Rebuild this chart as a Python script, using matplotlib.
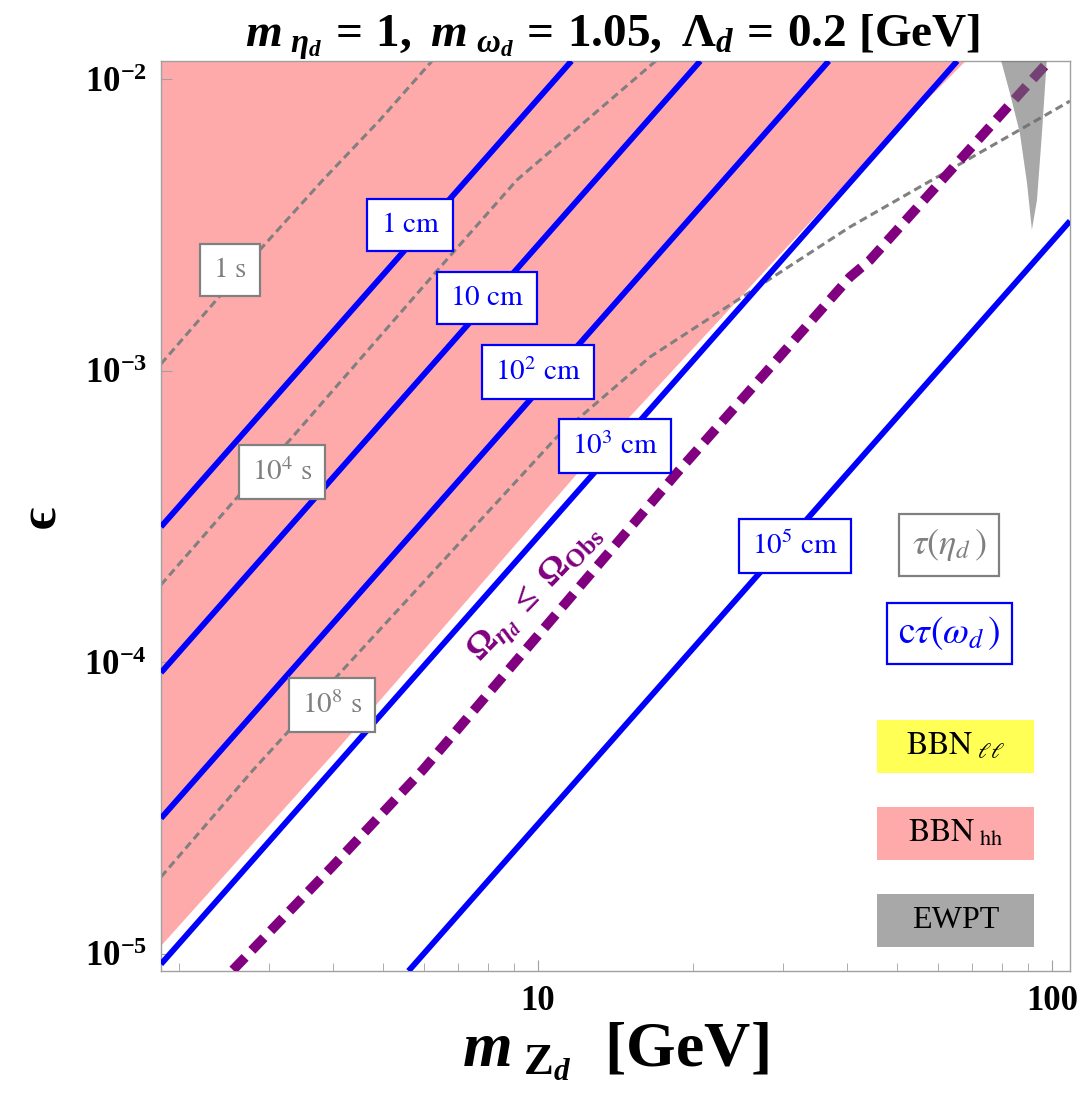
import numpy as np
import matplotlib
matplotlib.use("Agg")
import matplotlib.pyplot as plt
from matplotlib.patches import Rectangle

plt.rcParams['font.family'] = 'serif'
plt.rcParams['font.serif'] = ['Liberation Serif', 'DejaVu Serif']
# bold Times-like math for title / axes, stix used for the thin labels
plt.rcParams['mathtext.fontset'] = 'custom'
plt.rcParams['mathtext.rm'] = 'Liberation Serif:bold'
plt.rcParams['mathtext.it'] = 'Liberation Serif:italic:bold'
plt.rcParams['mathtext.bf'] = 'Liberation Serif:bold'

# ==== data (m_Zd [GeV], epsilon) ====
x_range = (1.848, 108.4)
y_range = (8.74e-6, 1.157e-2)

# c*tau(omega_d) contours (straight lines in log-log)
ctau_labels = [r"$\mathrm{1\ cm}$", r"$\mathrm{10\ cm}$", r"$\mathrm{10^{2}\ cm}$",
               r"$\mathrm{10^{3}\ cm}$", r"$\mathrm{10^{5}\ cm}$"]
ctau_m = [(1.848, 11.62), (1.848, 20.69), (1.848, 36.8), (1.848, 65.4), (5.60, 108.4)]
ctau_eps = [(2.92e-4, 1.157e-2), (9.23e-5, 1.157e-2), (2.92e-5, 1.157e-2),
            (9.23e-6, 1.157e-2), (8.74e-6, 3.27e-3)]

# tau(eta_d) contours
tau_labels = [r"$\mathrm{1\ s}$", r"$\mathrm{10^{4}\ s}$", r"$\mathrm{10^{8}\ s}$"]
tau_1s_m = [1.848, 2.853, 3.817, 4.927, 6.248]
tau_1s_eps = [1.057e-3, 2.56e-3, 4.52e-3, 7.26e-3, 1.167e-2]
tau_1e4_m = [1.848, 2.573, 3.292, 6.333, 9.10, 10.65, 17.04]
tau_1e4_eps = [1.846e-4, 3.61e-4, 5.80e-4, 2.186e-3, 4.52e-3, 5.73e-3, 1.167e-2]
tau_1e8_m = [1.848, 2.790, 3.249, 4.120, 10.89, 16.52, 40.46, 108.4]
tau_1e8_eps = [1.837e-5, 4.27e-5, 5.73e-5, 9.2e-5, 5.94e-4, 1.117e-3, 3.12e-3, 8.43e-3]

# BBN_hh excluded region: lower-right boundary
bbn_m = [1.848, 4.064, 11.96, 45.65, 68.3]
bbn_eps = [1.065e-5, 5.01e-5, 4.47e-4, 5.73e-3, 1.167e-2]

# relic abundance line Omega_eta_d <= Omega_obs
relic_m = [2.551, 3.974, 5.974, 18.64, 40.46, 44.25, 99.1]
relic_eps = [8.81e-6, 1.988e-5, 4.28e-5, 4.47e-4, 2.10e-3, 2.40e-3, 1.167e-2]

# EWPT wedge around the Z pole
ewpt_m = [79.2, 82.8, 86.6, 89.4, 91.4, 93.5, 95.6, 97.8]
ewpt_eps = [1.2e-2, 8.99e-3, 6.55e-3, 4.42e-3, 3.05e-3, 3.86e-3, 6.55e-3, 1.2e-2]

legend_names = [r"$\mathrm{BBN}_{\ \ell\ell}$", r"$\mathrm{BBN}_{\ \mathrm{hh}}$", "EWPT"]
legend_colors = ["#ffff55", "#ffaaaa", "#a8a8a8"]

pink = "#ffaaaa"
blue = "#0000ff"
grey = "#808080"
purple = "#800080"

fig = plt.figure(figsize=(10.84, 11.04), dpi=100)
ax = fig.add_axes([161 / 1084, 133 / 1104, 909 / 1084, 910 / 1104])
ax.set_xscale("log")
ax.set_yscale("log")
ax.set_xlim(*x_range)
ax.set_ylim(*y_range)

# pink region
ax.fill(bbn_m + [bbn_m[0]], bbn_eps + [bbn_eps[-1]], color=pink, lw=0, zorder=1)

for m, e in [(tau_1s_m, tau_1s_eps), (tau_1e4_m, tau_1e4_eps), (tau_1e8_m, tau_1e8_eps)]:
    ax.plot(m, e, color=grey, lw=2.2, ls=(0, (2.6, 1.5)), zorder=2)

for m, e in zip(ctau_m, ctau_eps):
    ax.plot(m, e, color=blue, lw=4.2, solid_capstyle="butt", zorder=3)

ax.plot(relic_m, relic_eps, color=purple, lw=7, ls=(0, (1.8, 1.0)),
        dash_capstyle="butt", zorder=4)

ax.fill(ewpt_m, ewpt_eps, color="#6e6e6e", alpha=0.6, lw=0, zorder=5)

# line labels
def box_label(x, y, s, col):
    ax.text(x, y, s, color=col, fontsize=21, ha="center", va="center",
            math_fontfamily="stix", zorder=7,
            bbox=dict(boxstyle="square,pad=0.45", fc="white", ec=col, lw=1.6))

ctau_pos = [(5.64, 3.17e-3), (7.96, 1.78e-3), (10.0, 9.92e-4), (14.1, 5.53e-4), (31.6, 2.51e-4)]
for (x, y), s in zip(ctau_pos, ctau_labels):
    box_label(x, y, s, blue)
tau_pos = [(2.516, 2.22e-3), (3.177, 4.50e-4), (3.974, 7.15e-5)]
for (x, y), s in zip(tau_pos, tau_labels):
    box_label(x, y, s, grey)

ax.text(9.9, 1.72e-4, r"$\Omega_{\eta_d}\ \leq\ \Omega_{\mathrm{Obs}}$", color=purple,
        fontsize=26, rotation=46, ha="center", va="center", zorder=7)

# legend on the right
ax.text(0.867, 0.468, r"$\tau(\eta_d\,)$", transform=ax.transAxes, color=grey,
        fontsize=26, ha="center", va="center", math_fontfamily="stix", zorder=7,
        bbox=dict(boxstyle="square,pad=0.35", fc="white", ec=grey, lw=1.6))
ax.text(0.867, 0.371, r"$\mathrm{c}\tau(\omega_d\,)$", transform=ax.transAxes, color=blue,
        fontsize=27, ha="center", va="center", math_fontfamily="stix", zorder=7,
        bbox=dict(boxstyle="square,pad=0.3", fc="white", ec=blue, lw=1.6))
for i, (name, col) in enumerate(zip(legend_names, legend_colors)):
    y0 = 0.2176 - i * 0.0956
    ax.add_patch(Rectangle((0.7877, y0), 0.1727, 0.0582, transform=ax.transAxes,
                           fc=col, ec="none", zorder=7))
    ax.text(0.7877 + 0.1727 / 2, y0 + 0.0291, name, transform=ax.transAxes,
            fontsize=23, ha="center", va="center", math_fontfamily="stix", zorder=8)

# axes styling
for sp in ax.spines.values():
    sp.set_color("#a0a0a0")
    sp.set_linewidth(1.0)
ax.set_xticks([10, 100])
ax.set_xticklabels(["10", "100"], fontsize=25, fontweight="bold")
ax.set_xticks([2, 3, 4, 5, 6, 7, 8, 9, 20, 30, 40, 50, 60, 70, 80, 90], minor=True)
ax.xaxis.set_minor_formatter(matplotlib.ticker.NullFormatter())
ax.set_yticks([1e-5, 1e-4, 1e-3, 1e-2])
ax.set_yticklabels([r"$10^{-5}$", r"$10^{-4}$", r"$10^{-3}$", r"$10^{-2}$"], fontsize=25)
ax.yaxis.set_minor_locator(matplotlib.ticker.NullLocator())
ax.tick_params(which="both", direction="in", color="#a0a0a0", top=False, right=False)
ax.tick_params(which="major", length=8, pad=10)
ax.tick_params(which="minor", length=6)

fig.text(613 / 1084, 1 - 47 / 1104,
         r"$m_{\ \eta_d}\, =\, 1,\ m_{\ \omega_d}\, =\, 1.05,\ \Lambda_d\, =\, 0.2\ \mathrm{[GeV]}$",
         fontsize=34, ha="center", va="baseline")
fig.text(615 / 1084, 1 - 1052 / 1104, r"$m_{\ \mathrm{Z}_d}\ \ \mathrm{[GeV]}$",
         fontsize=46, ha="center", va="center")
fig.text(42 / 1084, 1 - 517 / 1104, "ϵ", family=["Liberation Serif", "DejaVu Serif"],
         fontweight="bold", fontsize=38, rotation=90, ha="center", va="center")

fig.savefig("out.png", dpi=100)
